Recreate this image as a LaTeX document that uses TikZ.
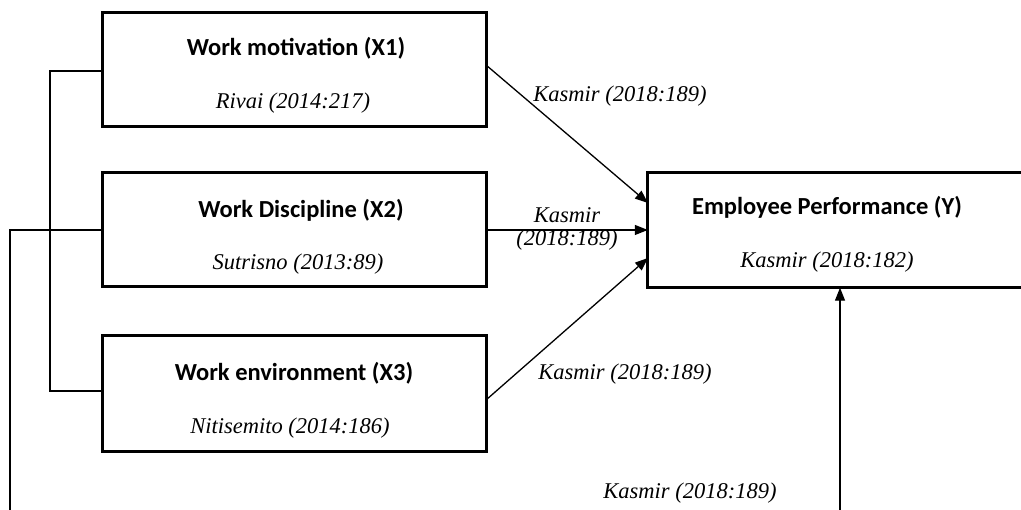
\documentclass[tikz,border=0pt]{standalone}
\usepackage{fontspec}
\setmainfont{Liberation Serif}
\newfontfamily\titlefont{Carlito}
\usetikzlibrary{arrows.meta}
\begin{document}
\begin{tikzpicture}[x=1pt,y=-1pt,
  varbox/.style={draw,line width=3pt,minimum width=384pt,inner sep=0pt},
  ttl/.style={font=\titlefont\bfseries\fontsize{24.5}{28}\selectfont,inner sep=0pt},
  cite/.style={font=\itshape\fontsize{22.5}{25}\selectfont,inner sep=0pt},
  conn/.style={line width=1.3pt},
  arr/.style={conn,-{Triangle[length=13pt,width=10pt]}}]
\useasboundingbox (0,0) rectangle (1021,510);
\clip (0,0) rectangle (1021,510);
\fill[white] (0,0) rectangle (1021,510);
% boxes
\node[varbox,minimum height=114pt] (x1) at (294,70) {};
\node[varbox,minimum height=114pt] (x2) at (294,230) {};
\node[varbox,minimum height=116pt] (x3) at (294,394) {};
\node[inner sep=0pt,minimum width=420pt,minimum height=115pt] (y) at (858,230) {};
\draw[line width=3pt,line join=miter] (y.north east) -- (y.north west) -- (y.south west) -- (y.south east);
% texts
\node[ttl] (t1) at (296,48) {Work motivation (X1)};
\node[cite] (c1) at (293,103) {Rivai (2014:217)};
\node[ttl] (t2) at (301,210) {Work Discipline (X2)};
\node[cite] (c2) at (298,264) {Sutrisno (2013:89)};
\node[ttl] (t3) at (294,373) {Work environment (X3)};
\node[cite] (c3) at (290,428) {Nitisemito (2014:186)};
\node[ttl] (ty) at (827,207) {Employee Performance (Y)};
\node[cite] (cy) at (827,262) {Kasmir (2018:182)};
% helper coordinates
\coordinate (a1s) at (486,65);
\coordinate (a1e) at (648,203);
\coordinate (a3s) at (486,400);
\coordinate (a3e) at (648,258);
\coordinate (bL) at (50,71);
\coordinate (bR) at (50,391);
\coordinate (lz) at (10,230);
\coordinate (lzb) at (10,520);
\coordinate (ab) at (840,520);
% connectors
\draw[arr] (a1s) -- (a1e);
\draw[arr] (x2.east) -- (x2.east -| y.west);
\draw[arr] (a3s) -- (a3e);
\draw[conn] (x1.west |- bL) -- (bL) -- (bR) -- (x3.west |- bR);
\draw[conn] (x2.west) -- (lz) -- (lzb);
\draw[arr] (ab) -- (ab |- y.south);
% edge labels
\node[cite] (l1) at (620,96) {Kasmir (2018:189)};
\node[cite,align=center,font=\itshape\fontsize{22.5}{23}\selectfont] (l2) at (567,229) {Kasmir\\(2018:189)};
\node[cite] (l3) at (625,374) {Kasmir (2018:189)};
\node[cite] (l4) at (690,493) {Kasmir (2018:189)};
\end{tikzpicture}
\end{document}
